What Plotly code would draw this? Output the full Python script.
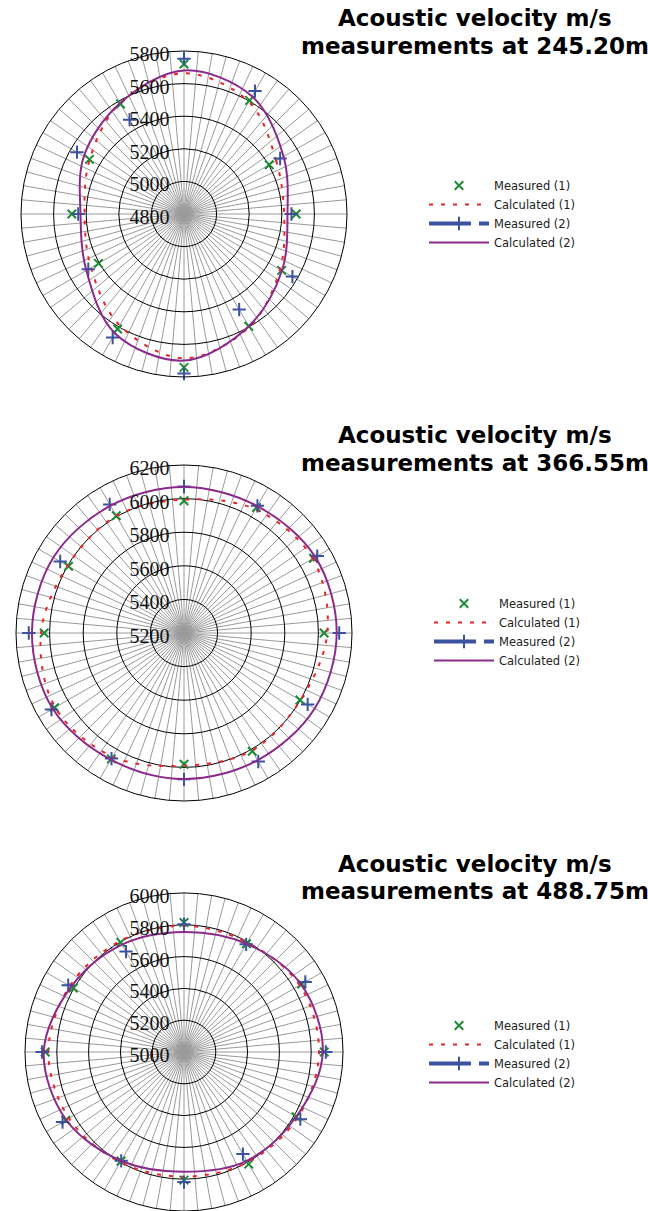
import plotly.graph_objects as go

W, H = 648, 1211

angles = [0, 30, 60, 90, 120, 150, 180, 210, 240, 270, 300, 330]

# Chart 1 : 245.20 m
m1_a = [5488, 5404, 5605, 5720, 5579, 5470, 5488, 5406, 5615, 5741, 5595, 5492]
c1_a = [5414, 5453, 5595, 5663, 5585, 5468, 5410, 5459, 5589, 5685, 5600, 5480]
m2_a = [5459, 5481, 5671, 5753, 5468, 5558, 5449, 5478, 5675, 5779, 5477, 5568]
c2_a = [5435, 5505, 5634, 5681, 5585, 5509, 5435, 5492, 5646, 5699, 5595, 5494]

# Chart 2 : 366.55 m
m1_b = [6034, 6090, 6063, 5987, 6006, 5994, 6032, 6090, 6065, 5981, 6013, 5997]
c1_b = [6053, 6085, 6050, 5994, 6005, 6000, 6051, 6085, 6050, 5990, 6008, 6000]
m2_b = [6124, 6116, 6074, 6072, 6084, 6051, 6124, 6111, 6063, 6071, 6084, 6050]
c2_b = [6109, 6103, 6072, 6069, 6075, 6098, 6105, 6102, 6070, 6069, 6075, 6098]

# Chart 3 : 488.75 m
m1_c = [5882, 5855, 5786, 5814, 5796, 5804, 5873, 5859, 5792, 5806, 5814, 5814]
c1_c = [5849, 5840, 5795, 5794, 5805, 5830, 5853, 5835, 5800, 5784, 5800, 5825]
m2_c = [5892, 5881, 5782, 5804, 5729, 5841, 5892, 5882, 5790, 5818, 5741, 5845]
c2_c = [5873, 5850, 5786, 5755, 5780, 5820, 5882, 5855, 5790, 5753, 5790, 5815]

depths = ["245.20m", "366.55m", "488.75m"]
ranges = [[4800, 5800], [5200, 6200], [5000, 6000]]
series = [(m1_a, c1_a, m2_a, c2_a), (m1_b, c1_b, m2_b, c2_b), (m1_c, c1_c, m2_c, c2_c)]

# geometry in screen px: centre x, centre y, radius
geom = [(184, 214, 163), (184, 633, 168), (184, 1052, 159)]
legend_pos = [(424, 171), (429, 589), (424, 1011)]
title_y = [(18, 46), (435, 463), (864, 891)]

GREEN = "#1b8a35"
RED = "#e8262a"
BLUE = "#3a52a0"
PURPLE = "#8a2a8a"

fig = go.Figure()
layout = dict(width=W, height=H, margin=dict(l=0, r=0, t=0, b=0),
              paper_bgcolor="white", plot_bgcolor="white", showlegend=True,
              annotations=[])

for i in range(3):
    pname = "polar" if i == 0 else f"polar{i+1}"
    lname = "legend" if i == 0 else f"legend{i+1}"
    m1, c1, m2, c2 = series[i]
    th_closed = angles + [angles[0]]
    fig.add_trace(go.Scatterpolar(
        r=m1, theta=angles, mode="markers", name="Measured (1)", subplot=pname, legend=lname,
        marker=dict(symbol="x-thin", size=8.5, color=GREEN, line=dict(color=GREEN, width=2))))
    fig.add_trace(go.Scatterpolar(
        r=c1 + [c1[0]], theta=th_closed, mode="lines", name="Calculated (1)", subplot=pname, legend=lname,
        line=dict(color=RED, width=2, dash="4px,8px", shape="spline")))
    r_sep, t_sep = [], []
    for v, t in zip(m2, angles):
        r_sep += [v, None]
        t_sep += [t, None]
    fig.add_trace(go.Scatterpolar(
        r=r_sep, theta=t_sep, mode="lines+markers", name="Measured (2)", subplot=pname, legend=lname,
        connectgaps=False,
        line=dict(color=BLUE, width=4, dash="42px,8px"),
        marker=dict(symbol="cross-thin", size=9.5, color=BLUE, line=dict(color=BLUE, width=2))))
    fig.add_trace(go.Scatterpolar(
        r=c2 + [c2[0]], theta=th_closed, mode="lines", name="Calculated (2)", subplot=pname, legend=lname,
        line=dict(color=PURPLE, width=2, shape="spline")))

    cx, cy, R = geom[i]
    y0 = max(0.0, 1 - (cy + R) / H)
    y1 = 1 - (cy - R) / H
    layout[pname] = dict(
        domain=dict(x=[(cx - R) / W, (cx + R) / W], y=[y0, y1]),
        bgcolor="white",
        radialaxis=dict(range=ranges[i], dtick=200, tick0=ranges[i][0], angle=90,
                        side="counterclockwise", showline=False, ticks="",
                        gridcolor="black", gridwidth=1,
                        tickfont=dict(family="Liberation Serif", size=20, color="#111")),
        angularaxis=dict(dtick=5, showticklabels=False, ticks="", gridcolor="#9a9a9a",
                         gridwidth=1, showline=True, linecolor="black", linewidth=1,
                         direction="counterclockwise", rotation=0),
    )
    lx, ly = legend_pos[i]
    layout[lname] = dict(x=lx / W, y=1 - ly / H, xanchor="left", yanchor="top",
                         bgcolor="rgba(0,0,0,0)", itemwidth=60,
                         font=dict(family="DejaVu Sans", size=11.5, color="#222"))
    ty1, ty2 = title_y[i]
    layout["annotations"].append(dict(
        x=475 / W, y=1 - ty1 / H, xref="paper", yref="paper", showarrow=False,
        xanchor="center", yanchor="middle", text="<b>Acoustic velocity m/s</b>",
        font=dict(family="DejaVu Sans", size=23, color="black")))
    layout["annotations"].append(dict(
        x=475 / W, y=1 - ty2 / H, xref="paper", yref="paper", showarrow=False,
        xanchor="center", yanchor="middle", text=f"<b>measurements at {depths[i]}</b>",
        font=dict(family="DejaVu Sans", size=23, color="black")))

fig.update_layout(**layout)
fig.write_html("out.html", config={"displayModeBar": False},
               post_script="document.body.style.margin='0px';document.body.style.overflow='hidden';")
